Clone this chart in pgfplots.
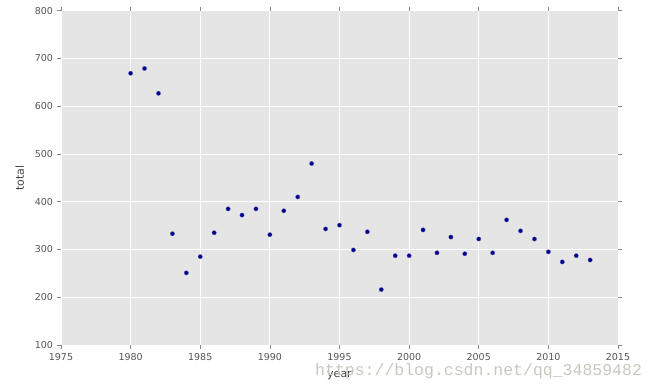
\documentclass[border=0pt]{standalone}
\usepackage{pgfplots}
\pgfplotsset{compat=1.18}
\usepackage{fontspec}
\setmainfont{DejaVu Sans}
\newfontfamily\wmfont{Liberation Mono}
\definecolor{bgc}{RGB}{229,229,229}
\definecolor{tickc}{RGB}{85,85,85}
\definecolor{ptc}{RGB}{0,0,140}
\definecolor{wmc}{RGB}{200,200,192}
\begin{document}
\begin{tikzpicture}
\useasboundingbox (-61pt,-46pt) rectangle (595pt,345pt);
\begin{axis}[
  at={(0,0)}, anchor=south west,
  scale only axis, width=557pt, height=334.3pt,
  xmin=1975, xmax=2015, ymin=100, ymax=800,
  xtick={1975,1980,...,2015}, ytick={100,200,...,800},
  /pgf/number format/1000 sep={},
  /pgf/number format/assume math mode=true,
  axis background/.style={fill=bgc},
  axis line style={draw=none},
  grid=major, grid style={white, line width=0.9pt},
  tick pos=both, tick align=outside, major tick length=3.5pt,
  tick style={draw=tickc!70, line width=0.6pt},
  ticklabel style={font=\fontsize{9.5}{11}\selectfont, text=tickc},
  xticklabel style={yshift=-1pt},
  yticklabel style={xshift=-1pt},
  xlabel={year}, ylabel={total},
  label style={font=\fontsize{11}{13}\selectfont, text=tickc!80!black},
  xlabel style={yshift=-4pt},
  ylabel style={yshift=4pt},
]
\addplot[only marks, mark=*, mark size=2.2pt, mark options={fill=ptc, draw=ptc!60!white, line width=0.3pt}] coordinates {
(1980,669) (1981,679) (1982,627) (1983,333) (1984,251) (1985,285)
(1986,335) (1987,385) (1988,372) (1989,385) (1990,331) (1991,381)
(1992,410) (1993,480) (1994,343) (1995,351) (1996,299) (1997,337)
(1998,216) (1999,287) (2000,287) (2001,341) (2002,293) (2003,326)
(2004,291) (2005,322) (2006,293) (2007,362) (2008,339) (2009,322)
(2010,295) (2011,274) (2012,287) (2013,278)
};
\end{axis}
\node[anchor=west, text=wmc, font=\wmfont\fontsize{16.5}{18}\selectfont, inner sep=0pt] at (254pt,-26pt) {https://blog.csdn.net/qq\_34859482};
\end{tikzpicture}
\end{document}
